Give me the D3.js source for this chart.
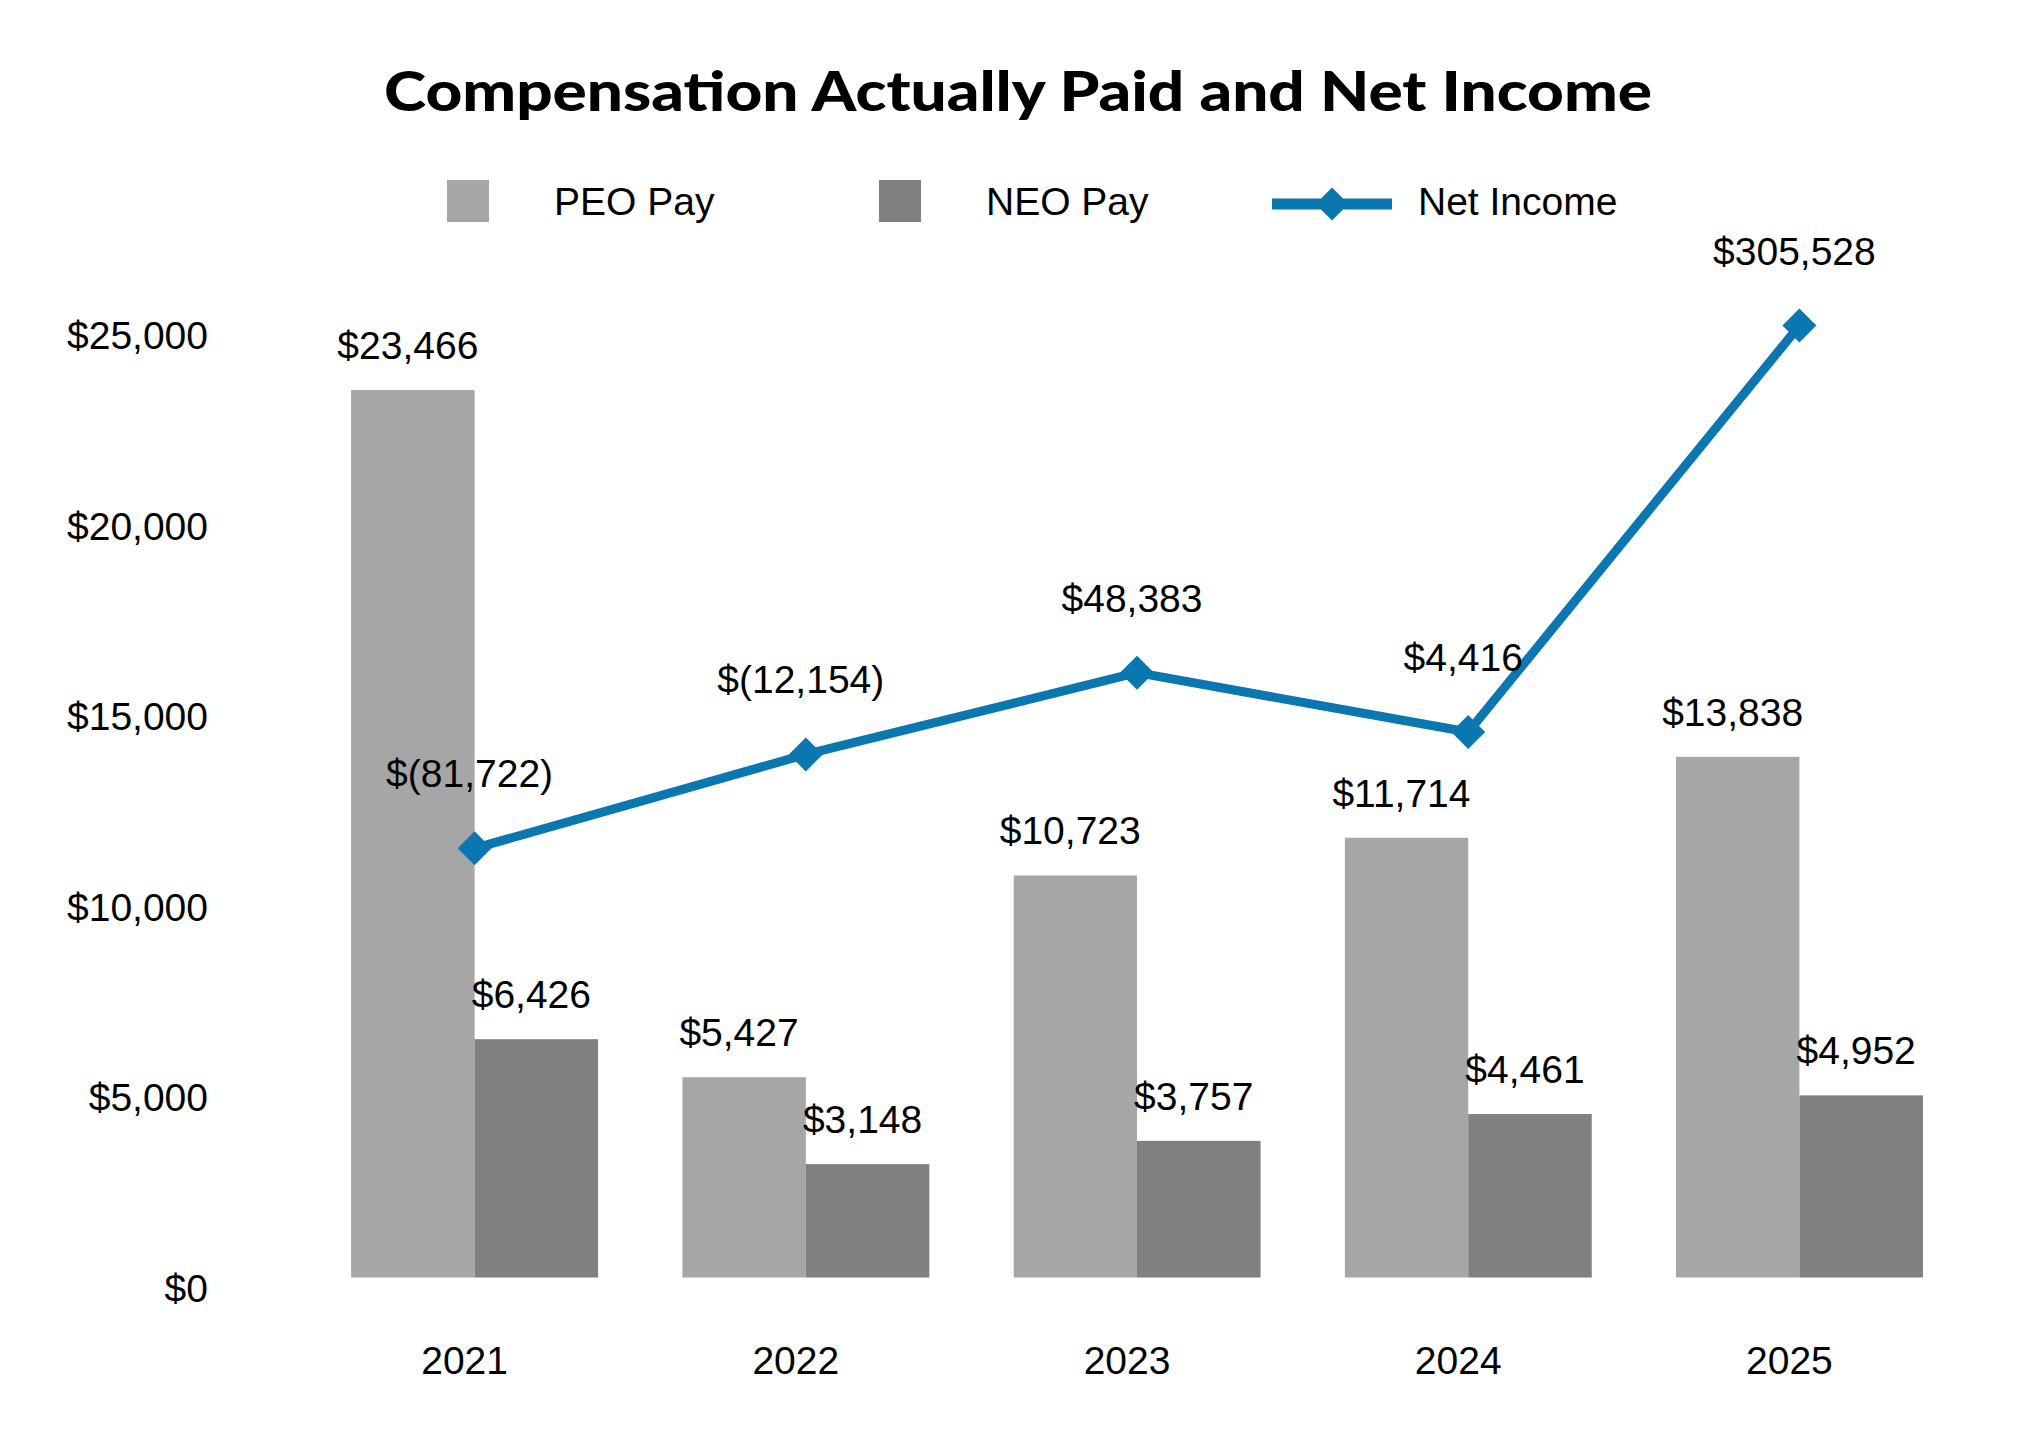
<!DOCTYPE html>
<html>
<head>
<meta charset="utf-8">
<script src="https://cdn.jsdelivr.net/npm/d3@7"></script>
<style>
  html, body { margin: 0; padding: 0; background: #fff; }
  svg { display: block; }
  text { font-family: "Liberation Sans", Arial, sans-serif; fill: #000; }
</style>
</head>
<body>
<svg id="chart" width="2034" height="1446"></svg>
<script>
// ---- data ----
const years = ["2021", "2022", "2023", "2024", "2025"];
const peoPay = [23466, 5427, 10723, 11714, 13838];
const neoPay = [6426, 3148, 3757, 4461, 4952];
const netIncome = [-81722, -12154, 48383, 4416, 305528];
const yTicks = [0, 5000, 10000, 15000, 20000, 25000];
const seriesNames = ["PEO Pay", "NEO Pay", "Net Income"];
const titleText = "Compensation Actually Paid and Net Income";

// ---- styles ----
const colPEO = "#a7a6a7";
const colNEO = "#808080";
const colLine = "#0a77b0";
const fs = 39;

const svg = d3.select("#chart");

const x = d3.scaleBand().domain(years).range([309, 1965]).paddingInner(0.254).paddingOuter(0.127);
const xSub = d3.scaleBand().domain(["PEO", "NEO"]).range([0, x.bandwidth()]);
const y = d3.scaleLinear().domain([0, 25000]).range([1284, 331.6]);
const y2 = d3.scaleLinear().domain([-400000, 300000]).range([1278, 333]);

const fmt = v => v < 0 ? "$(" + d3.format(",")(-v) + ")" : "$" + d3.format(",")(v);

// clip for plot area (bars end at the category axis)
svg.append("defs").append("clipPath").attr("id", "plotclip")
  .append("rect").attr("x", 0).attr("y", 0).attr("width", 2034).attr("height", 1277.5);

// title
svg.append("text")
  .attr("x", 1018).attr("y", 111)
  .attr("text-anchor", "middle")
  .style("font-family", "Lato, 'Open Sans', sans-serif")
  .style("font-weight", "900")
  .style("font-size", "56px")
  .attr("textLength", 1268)
  .attr("lengthAdjust", "spacingAndGlyphs")
  .text(titleText);

// y axis (labels only)
const yAxis = d3.axisLeft(y).tickValues(yTicks).tickSize(0).tickPadding(0)
  .tickFormat(d => "$" + d3.format(",")(d));
const gy = svg.append("g").attr("transform", "translate(208,0)").call(yAxis);
gy.select(".domain").remove();
gy.selectAll("text")
  .attr("dy", null).attr("y", 17)
  .style("font-size", fs + "px")
  .style("font-family", "'Liberation Sans', Arial, sans-serif")
  .attr("fill", "#000");

// x axis (labels only)
const xAxis = d3.axisBottom(x).tickSize(0).tickPadding(0);
const gx = svg.append("g").attr("transform", "translate(-10,0)").call(xAxis);
gx.select(".domain").remove();
gx.selectAll("text")
  .attr("dy", null).attr("y", 1374)
  .style("font-size", fs + "px")
  .style("font-family", "'Liberation Sans', Arial, sans-serif")
  .attr("fill", "#000");

// bars
const groups = svg.append("g").selectAll("g").data(years).join("g")
  .attr("transform", d => `translate(${x(d)},0)`);

const barLayer = groups.append("g").attr("clip-path", "url(#plotclip)");
barLayer.append("rect")
  .attr("x", xSub("PEO")).attr("width", xSub.bandwidth())
  .attr("y", (d, i) => y(peoPay[i])).attr("height", (d, i) => y(0) - y(peoPay[i]))
  .attr("fill", colPEO);
barLayer.append("rect")
  .attr("x", xSub("NEO")).attr("width", xSub.bandwidth())
  .attr("y", (d, i) => y(neoPay[i])).attr("height", (d, i) => y(0) - y(neoPay[i]))
  .attr("fill", colNEO);

groups.append("text")
  .attr("x", xSub("PEO") + xSub.bandwidth() / 2 - 5)
  .attr("y", (d, i) => y(peoPay[i]) - 31)
  .attr("text-anchor", "middle").style("font-size", fs + "px")
  .text((d, i) => fmt(peoPay[i]));
groups.append("text")
  .attr("x", xSub("NEO") + xSub.bandwidth() / 2 - 5)
  .attr("y", (d, i) => y(neoPay[i]) - 31)
  .attr("text-anchor", "middle").style("font-size", fs + "px")
  .text((d, i) => fmt(neoPay[i]));

// net income line
const cx = d => x(d) + x.bandwidth() / 2;
const lineData = years.map((d, i) => [cx(d), y2(netIncome[i])]);
svg.append("path")
  .attr("d", d3.line()(lineData))
  .attr("fill", "none").attr("stroke", colLine)
  .attr("stroke-width", 9).attr("stroke-linejoin", "miter");

const diamond = d3.symbol().type(d3.symbolSquare).size(576);
svg.append("g").selectAll("path").data(lineData).join("path")
  .attr("d", diamond)
  .attr("transform", d => `translate(${d[0]},${d[1]}) rotate(45)`)
  .attr("fill", colLine);

svg.append("g").selectAll("text").data(years).join("text")
  .attr("x", d => cx(d) - 5)
  .attr("y", (d, i) => y2(netIncome[i]) - 61)
  .attr("text-anchor", "middle").style("font-size", fs + "px")
  .text((d, i) => fmt(netIncome[i]));

// legend
const leg = svg.append("g");
leg.append("rect").attr("x", 447).attr("y", 180).attr("width", 42).attr("height", 42).attr("fill", colPEO);
leg.append("text").attr("x", 554).attr("y", 215).style("font-size", fs + "px").text(seriesNames[0]);
leg.append("rect").attr("x", 879).attr("y", 180).attr("width", 42).attr("height", 42).attr("fill", colNEO);
leg.append("text").attr("x", 986).attr("y", 215).style("font-size", fs + "px").text(seriesNames[1]);
leg.append("line").attr("x1", 1272).attr("x2", 1392).attr("y1", 204).attr("y2", 204)
  .attr("stroke", colLine).attr("stroke-width", 11);
leg.append("path").attr("d", d3.symbol().type(d3.symbolSquare).size(540))
  .attr("transform", "translate(1332,204) rotate(45)").attr("fill", colLine);
leg.append("text").attr("x", 1418).attr("y", 215).style("font-size", fs + "px").text(seriesNames[2]);
</script>
</body>
</html>
